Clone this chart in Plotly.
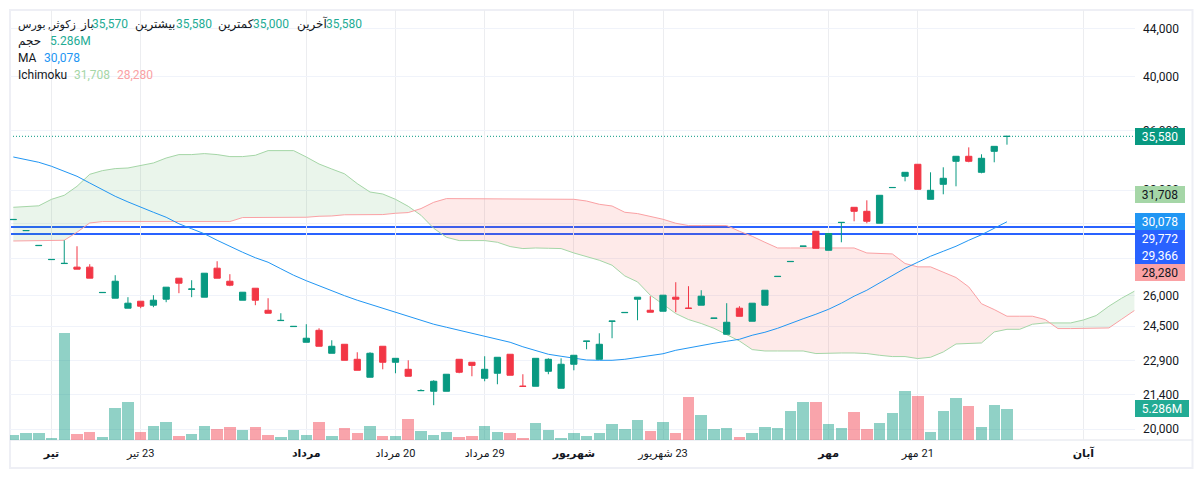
import math

import plotly.graph_objects as go

# prices, one entry per trading day
open_p = [30205, 29555, 28700, 27920, 27705, 27510, 27510, 26165, 25881, 25377, 25727, 25527, 25830, 26919, 26340, 25932,
          27453, 26759, 25777, 26393, 25274, 24765, 24475, 23732, 24298, 23224, 23639, 22951, 22155, 23547, 22817, 22504,
          21575, 21552, 21552, 22951, 22817, 22110, 22329, 23179, 21770, 21766, 22416, 21680, 22728, 23775, 22951, 24730,
          25155, 25828, 25274, 25225, 25932, 25380, 25527, 24875, 24109, 25377, 24734, 25527, 27005, 27810, 28660, 29520,
          28437, 30030, 30945, 30703, 29989, 32165, 32891, 33677, 31435, 32377, 33875, 34210, 33150, 34546, 35570]
high_p = [30215, 29565, 28710, 27930, 29000, 28663, 27669, 26175, 27078, 25932, 25727, 26034, 26447, 26919, 26811, 27184,
          27831, 27131, 26187, 26393, 25879, 25127, 24485, 24590, 24394, 23825, 23639, 23270, 23270, 23547, 22995, 22906,
          21636, 22024, 22286, 22951, 22817, 23088, 23042, 23179, 22286, 22995, 22995, 22995, 23133, 23785, 24157, 24740,
          25165, 25932, 25983, 26034, 26707, 26499, 26289, 24885, 25627, 25477, 25627, 26289, 27015, 27820, 28670, 29520,
          29392, 30040, 30945, 31373, 31685, 32175, 33150, 33677, 33150, 33478, 34210, 34816, 34345, 34887, 35580]
low_p = [30205, 29555, 28700, 27920, 27705, 27400, 26920, 26165, 25881, 25377, 25377, 25427, 25677, 26136, 25932, 25932,
         26919, 26499, 25777, 25527, 25127, 24765, 24475, 23732, 23547, 23224, 22906, 22460, 22155, 22504, 22329, 22198,
         21575, 20970, 21552, 22329, 22198, 21981, 21852, 22242, 21760, 21766, 22286, 21680, 22460, 23407, 22951, 23922,
         25155, 24782, 25176, 25225, 25176, 25370, 25527, 24875, 24109, 24975, 24734, 25527, 27005, 27810, 28660, 28550,
         28437, 28889, 30107, 29989, 29989, 32165, 32567, 32060, 31435, 31747, 32250, 33809, 33085, 33809, 35000]
close_p = [30215, 29565, 28710, 27930, 27715, 27400, 26920, 26175, 26759, 25627, 25477, 25777, 26447, 26655, 26350, 27184,
           26919, 26551, 26187, 25777, 25127, 24775, 24485, 23922, 23547, 23547, 22906, 22460, 23224, 22817, 22995, 22198,
           21585, 21981, 22286, 22373, 22678, 22504, 23042, 22242, 21760, 22995, 22951, 22728, 23133, 23785, 23639, 24740,
           25165, 25932, 25176, 26034, 25828, 25370, 25983, 24885, 24685, 24975, 25627, 26289, 27015, 27820, 28670, 28550,
           29392, 30040, 30703, 30107, 31685, 32175, 33150, 32060, 31997, 32762, 34210, 33875, 34076, 34887, 35580]

# volume in millions
volume = [0.85, 1.19, 1.19, 0.34, 18.25, 1.02, 1.36, 0.51, 5.46, 6.48, 1.36, 2.39, 3.07, 0.68, 1.02, 2.39, 1.88, 2.22, 1.71,
          2.22, 0.85, 0.51, 1.71, 0.85, 3.07, 0.68, 2.05, 1.19, 2.39, 0.68, 0.68, 3.58, 1.53, 0.85, 1.36, 0.51, 0.68, 2.39,
          1.36, 1.19, 0.34, 2.9, 1.71, 0.34, 1.19, 0.68, 1.19, 2.73, 1.88, 3.41, 1.53, 3.07, 1.19, 7.33, 4.26, 1.88, 2.05,
          0.51, 1.19, 2.22, 2.05, 4.94, 6.48, 6.48, 2.73, 2.05, 4.77, 1.88, 2.9, 4.6, 8.35, 7.5, 1.36, 4.94, 7.16, 5.8, 2.22,
          5.97, 5.286]

ma = [34163, 34008, 33809, 33544, 33241, 32891, 32460, 32029, 31622, 31275, 30934, 30644, 30345, 29960, 29666, 29376, 29002,
      28646, 28327, 28023, 27777, 27423, 27077, 26785, 26524, 26238, 26008, 25777, 25576, 25349, 25176, 24979, 24758, 24589,
      24443, 24298, 24156, 24014, 23896, 23732, 23523, 23338, 23179, 23088, 22997, 22919, 22906, 22906, 22951, 23042, 23120,
      23202, 23361, 23477, 23593, 23686, 23779, 23872, 24062, 24204, 24394, 24637, 24854, 25077, 25323, 25627, 25983, 26289,
      26681, 27077, 27449, 27777, 28106, 28382, 28663, 29002, 29319, 29694, 30078]

# ichimoku spans run 10 days past the last candle
span_a = [30945, 30975, 31036, 31435, 31684, 32250, 33020, 33260, 33392, 33432, 33610, 33763, 34094, 34325, 34325, 34392,
          34325, 34190, 34190, 34278, 34594, 34594, 34594, 34163, 33696, 33366, 33052, 32421, 31890, 31765, 31435, 31006,
          30465, 29694, 29174, 28985, 28985, 28985, 28889, 28646, 28533, 28567, 28550, 28533, 28288, 28078, 27885, 27614,
          27040, 26723, 26033, 25576, 25111, 24816, 24624, 24394, 24109, 23793, 23393, 23329, 23329, 23329, 23329, 23211,
          23238, 23238, 23238, 23211, 23133, 23074, 23074, 22984, 23042, 23284, 23653, 23662, 23700, 24218, 24345, 24345,
          24589, 24652, 24652, 24652, 24796, 25012, 25475, 25879, 26238]
span_b = [28962, 28962, 28962, 28962, 29002, 29463, 30007, 30089, 30089, 30089, 30089, 30089, 30089, 30089, 30089, 30089,
          30089, 30089, 30327, 30327, 30327, 30327, 30327, 30345, 30405, 30423, 30494, 30506, 30506, 30506, 30584, 30626,
          30866, 31251, 31479, 31479, 31479, 31479, 31479, 31479, 31479, 31479, 31479, 31479, 31435, 31330, 31129, 31024,
          30644, 30565, 30405, 30225, 29989, 29854, 29854, 29854, 29854, 29520, 29232, 28889, 28567, 28567, 28567, 28567,
          28567, 28567, 28567, 28288, 28244, 28233, 27707, 27525, 27525, 27253, 26955, 26461, 25600, 25309, 24979, 24979,
          24979, 24816, 24380, 24380, 24380, 24380, 24410, 24830, 25259]

price_ticks = [20000, 21400, 22900, 24500, 26000, 28000, 30000, 32000, 36000, 40000, 44000]
date_ticks = [3, 10, 23, 30, 37, 44, 51, 64, 71, 84]
date_labels = ["<b>تیر</b>", "\u200f23 تیر", "<b>مرداد</b>", "\u200f20 مرداد", "\u200f29 مرداد", "<b>شهریور</b>",
               "\u200f23 شهریور", "<b>مهر</b>", "\u200f21 مهر", "<b>آبان</b>"]

GREEN = "#089981"
RED = "#f23645"
BLUE = "#2962ff"
GRID = "#f0f3fa"
TEXT = "#131722"
FONT = "Roboto, 'DejaVu Sans', sans-serif"

W, H = 1203, 478
LEFT, RIGHT, TOP, BOTTOM = 10, 1135, 10, 440

days = list(range(len(close_p)))
span_days = list(range(len(span_a)))


def px_x(px):
    return (px - LEFT) / (RIGHT - LEFT)


def px_y(py):
    return (BOTTOM - py) / (BOTTOM - TOP)


# add the points where the two spans cross so the fills change colour cleanly
cloud_x, cloud_a, cloud_b = [], [], []
for i in span_days:
    cloud_x.append(i)
    cloud_a.append(span_a[i])
    cloud_b.append(span_b[i])
    if i + 1 < len(span_a):
        d0 = span_a[i] - span_b[i]
        d1 = span_a[i + 1] - span_b[i + 1]
        if d0 * d1 < 0:
            t = d0 / (d0 - d1)
            cross = span_a[i] + t * (span_a[i + 1] - span_a[i])
            cloud_x.append(i + t)
            cloud_a.append(cross)
            cloud_b.append(cross)
cloud_top = [max(a, b) for a, b in zip(cloud_a, cloud_b)]

fig = go.Figure()

# cloud fills
no_line = dict(width=0)
fig.add_trace(go.Scatter(x=cloud_x, y=cloud_b, mode="lines", line=no_line, yaxis="y"))
fig.add_trace(go.Scatter(x=cloud_x, y=cloud_top, mode="lines", line=no_line, fill="tonexty",
                         fillcolor="rgba(67,160,71,0.11)", yaxis="y"))
fig.add_trace(go.Scatter(x=cloud_x, y=cloud_a, mode="lines", line=no_line, yaxis="y"))
fig.add_trace(go.Scatter(x=cloud_x, y=cloud_top, mode="lines", line=no_line, fill="tonexty",
                         fillcolor="rgba(244,67,54,0.11)", yaxis="y"))
fig.add_trace(go.Scatter(x=span_days, y=span_a, mode="lines", line=dict(color="#a5d6a7", width=1), yaxis="y"))
fig.add_trace(go.Scatter(x=span_days, y=span_b, mode="lines", line=dict(color="#faa1a4", width=1), yaxis="y"))
fig.add_trace(go.Scatter(x=days, y=ma, mode="lines", line=dict(color="#2196f3", width=1), yaxis="y"))

vol_colors = ["rgba(8,153,129,0.45)" if c >= o else "rgba(242,54,69,0.45)" for o, c in zip(open_p, close_p)]
fig.add_trace(go.Bar(x=days, y=volume, marker=dict(color=vol_colors, line=dict(width=0)), width=0.9, yaxis="y2"))

fig.add_trace(go.Candlestick(x=days, open=open_p, high=high_p, low=low_p, close=close_p, yaxis="y3",
                             increasing=dict(line=dict(color=GREEN, width=1), fillcolor=GREEN),
                             decreasing=dict(line=dict(color=RED, width=1), fillcolor=RED),
                             whiskerwidth=0))

# horizontal levels
shapes = [
    dict(type="line", xref="paper", x0=0, x1=1, yref="y", y0=35580, y1=35580, layer="below",
         line=dict(color=GREEN, width=1, dash="1px,2px")),
    dict(type="line", xref="paper", x0=0, x1=1, yref="y", y0=29772, y1=29772, layer="below",
         line=dict(color=BLUE, width=2)),
    dict(type="line", xref="paper", x0=0, x1=1, yref="y", y0=29366, y1=29366, layer="below",
         line=dict(color=BLUE, width=2)),
    # frame and time axis border
    dict(type="rect", xref="paper", yref="paper", x0=px_x(10), x1=px_x(1192.5), y0=px_y(468), y1=px_y(10),
         line=dict(color="#eeeff5", width=2), layer="below"),
    dict(type="line", xref="paper", yref="paper", x0=px_x(10), x1=px_x(1192.5), y0=px_y(440), y1=px_y(440),
         line=dict(color="#e0e3eb", width=1), layer="below"),
]

annotations = []

# price tags on the right axis, shifted where they would overlap
tags = [
    ("35,580", math.log10(35580), "y", 0, GREEN, "white", 50),
    ("31,708", math.log10(31708), "y", 0, "#a5d6a7", TEXT, 50),
    ("30,078", math.log10(30078), "y", 0, "#2196f3", "white", 50),
    ("29,772", math.log10(29772), "y", -12, BLUE, "white", 50),
    ("29,366", math.log10(29366), "y", -22, BLUE, "white", 50),
    ("28,280", math.log10(28280), "y", -19.6, "#faa1a4", TEXT, 50),
    ("5.286M", 5.286, "y2", 0, "#22ab94", "white", 54),
]
for text, value, axis, shift, bg, fg, w in tags:
    annotations.append(dict(text=text, xref="paper", x=1, xanchor="left", yref=axis, y=value, yanchor="middle",
                            yshift=shift, showarrow=False, bgcolor=bg, width=w, height=17, borderpad=0, borderwidth=0,
                            align="center", font=dict(family=FONT, size=12, color=fg)))

# legend rows
VALUE_GREEN = "#22ab94"
legend_bits = [
    (18, 24, "زکوثر, بورس", TEXT, 11), (80, 24, "باز", TEXT, 12), (92, 24, "35,570", VALUE_GREEN, 12),
    (135, 24, "بیشترین", TEXT, 12), (176, 24, "35,580", VALUE_GREEN, 12), (218, 24, "کمترین", TEXT, 12),
    (253, 24, "35,000", VALUE_GREEN, 12), (297, 24, "آخرین", TEXT, 12), (326, 24, "35,580", VALUE_GREEN, 12),
    (18, 41, "حجم", TEXT, 12), (50, 41, "5.286M", VALUE_GREEN, 12),
    (18, 58, "MA", TEXT, 12), (44, 58, "30,078", "#2196f3", 12),
    (18, 75, "Ichimoku", TEXT, 12), (74, 75, "31,708", "#a5d6a7", 12), (117, 75, "28,280", "#faa1a4", 12),
]
for x, y, text, color, size in legend_bits:
    annotations.append(dict(text=text, xref="paper", yref="paper", x=px_x(x), y=px_y(y), xanchor="left", yanchor="middle",
                            showarrow=False, borderpad=0, borderwidth=0, font=dict(family=FONT, size=size, color=color)))

price_range = [math.log10(19583), math.log10(45612)]

fig.update_layout(
    width=W, height=H, autosize=False,
    margin=dict(l=LEFT, r=W - RIGHT, t=TOP, b=H - BOTTOM, pad=0),
    paper_bgcolor="white", plot_bgcolor="white",
    showlegend=False, hovermode=False, bargap=0, boxgap=0.3,
    font=dict(family=FONT, size=12, color=TEXT),
    xaxis=dict(type="linear", range=[-0.259, 88.05], tickmode="array", tickvals=date_ticks, ticktext=date_labels,
               showgrid=True, gridcolor="#ecedf0", gridwidth=1, zeroline=False, showline=False, ticks="",
               ticklabelstandoff=5, rangeslider=dict(visible=False), tickangle=0, tickfont=dict(family=FONT, size=11)),
    yaxis=dict(type="log", range=price_range, side="right", tickmode="array", tickvals=price_ticks,
               ticktext=[f"{v:,}" for v in price_ticks], showgrid=True, gridcolor=GRID, gridwidth=1, zeroline=False,
               showline=False, ticks="", ticklabelstandoff=7),
    yaxis2=dict(overlaying="y", range=[0, 73.3], visible=False, showgrid=False, zeroline=False),
    yaxis3=dict(overlaying="y", type="log", range=price_range, visible=False, showgrid=False, zeroline=False),
    shapes=shapes, annotations=annotations,
)

fig.write_html("out.html", config=dict(displayModeBar=False), post_script="document.body.style.margin='0';")
